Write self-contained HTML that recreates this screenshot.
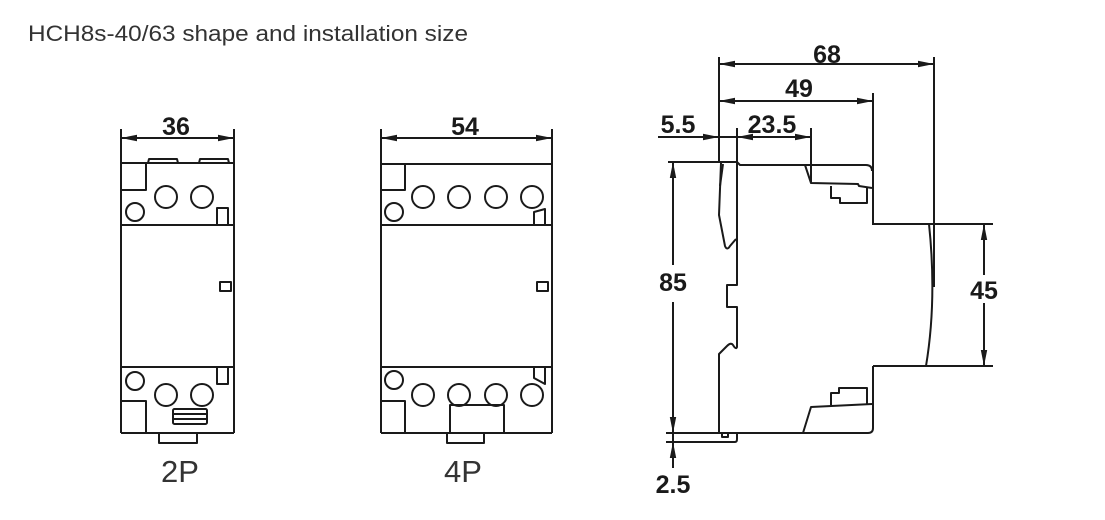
<!DOCTYPE html>
<html><head><meta charset="utf-8"><style>
html,body{margin:0;padding:0;background:#fff;}
svg{display:block;}
</style></head><body>
<svg width="1105" height="520" viewBox="0 0 1105 520" xmlns="http://www.w3.org/2000/svg">
<defs>
<marker id="a" viewBox="0 0 16 8" refX="16" refY="4" markerWidth="16" markerHeight="8" markerUnits="userSpaceOnUse" orient="auto-start-reverse">
<path d="M0,0.8 L16,4 L0,7.2 Z" fill="#1a1a1a"/>
</marker>
</defs>
<rect width="1105" height="520" fill="#fff"/>
<text x="28" y="41" font-family="Liberation Sans, Arial, sans-serif" font-size="22.5" fill="#333" textLength="440" lengthAdjust="spacingAndGlyphs">HCH8s-40/63 shape and installation size</text>

<g fill="none" stroke="#1a1a1a" stroke-width="2" stroke-linejoin="round">
<!-- 2P -->
<line x1="121" y1="129" x2="121" y2="433"/>
<line x1="234" y1="129" x2="234" y2="433"/>
<line x1="121" y1="163" x2="234" y2="163"/>
<path d="M148,163 L149,159 L177,159 L178,163"/>
<path d="M199,163 L200,159 L228,159 L229,163"/>
<path d="M121,190 L146,190 L146,163"/>
<circle cx="166" cy="197" r="11"/>
<circle cx="202" cy="197" r="11"/>
<circle cx="135" cy="212" r="9"/>
<rect x="217" y="208" width="11" height="17"/>
<line x1="121" y1="225" x2="234" y2="225"/>
<rect x="220" y="282" width="11" height="9"/>
<line x1="121" y1="367" x2="234" y2="367"/>
<rect x="217" y="367" width="11" height="17"/>
<circle cx="135" cy="381" r="9"/>
<circle cx="166" cy="395" r="11"/>
<circle cx="202" cy="395" r="11"/>
<path d="M121,401 L146,401 L146,433"/>
<rect x="173" y="409" width="34" height="15" rx="1.5"/>
<line x1="173" y1="414" x2="207" y2="414"/>
<line x1="173" y1="419" x2="207" y2="419"/>
<line x1="121" y1="433" x2="234" y2="433"/>
<path d="M159,433 L159,443 L197,443 L197,433"/>
<line x1="121" y1="138" x2="234" y2="138" marker-start="url(#a)" marker-end="url(#a)"/>

<!-- 4P -->
<line x1="381" y1="129" x2="381" y2="433"/>
<line x1="552" y1="129" x2="552" y2="433"/>
<line x1="381" y1="164" x2="552" y2="164"/>
<path d="M381,190 L405,190 L405,164"/>
<circle cx="423" cy="197" r="11"/>
<circle cx="459" cy="197" r="11"/>
<circle cx="496" cy="197" r="11"/>
<circle cx="532" cy="197" r="11"/>
<circle cx="394" cy="212" r="9"/>
<path d="M534,225 L534,212 L545,209 L545,225"/>
<line x1="381" y1="225" x2="552" y2="225"/>
<rect x="537" y="282" width="11" height="9"/>
<line x1="381" y1="367" x2="552" y2="367"/>
<path d="M534,367 L534,378 L545,384 L545,367"/>
<circle cx="394" cy="380" r="9"/>
<circle cx="423" cy="395" r="11"/>
<circle cx="459" cy="395" r="11"/>
<circle cx="496" cy="395" r="11"/>
<circle cx="532" cy="395" r="11"/>
<path d="M381,401 L405,401 L405,433"/>
<path d="M450,433 L450,405 L504,405 L504,433"/>
<line x1="381" y1="433" x2="552" y2="433"/>
<path d="M447,433 L447,443 L484,443 L484,433"/>
<line x1="381" y1="138" x2="552" y2="138" marker-start="url(#a)" marker-end="url(#a)"/>

<!-- Side view -->
<line x1="719" y1="57" x2="719" y2="162"/>
<line x1="934" y1="57" x2="934" y2="287"/>
<line x1="873" y1="93" x2="873" y2="225"/>
<line x1="811" y1="128" x2="811" y2="183"/>
<line x1="719" y1="64" x2="934" y2="64" marker-start="url(#a)" marker-end="url(#a)"/>
<line x1="719" y1="101" x2="873" y2="101" marker-start="url(#a)" marker-end="url(#a)"/>
<line x1="658" y1="137" x2="719" y2="137" marker-end="url(#a)"/>
<line x1="719" y1="137" x2="737" y2="137"/>
<line x1="737" y1="137" x2="811" y2="137" marker-start="url(#a)" marker-end="url(#a)"/>

<!-- top -->
<path d="M668,162 L737,162 L740,165 L866,165 Q872,165 872,171"/>
<path d="M805,165 L811,183 L858,184 L859,186 L872,188"/>
<path d="M831,186 L831,198 L840,198 L840,203 L867,203 L867,188"/>
<path d="M873,224 L993,224"/>
<path d="M929,224 Q937,300 926,366"/>
<path d="M873,366 L993,366"/>
<path d="M873,366 L873,428 Q873,433 868,433 L666,433"/>
<path d="M803,433 L811,407 L872,404"/>
<path d="M831,405 L831,393 L839,393 L839,388 L867,388 L867,404"/>

<!-- DIN clip -->
<path d="M737,128 L737,285 L727,285 L727,307 L737,307 L737,347 Q736,350 733,345 Q731,342 727,346 L719,354 L719,433"/>
<path d="M721,163 L719,215 L725,246 Q727,251 730,246 L736,239"/>
<path d="M723,164 L720,186"/>
<path d="M666,442 L735,442 Q737,442 737,439 L737,433"/>
<path d="M722,433 L722,437 L728,437 L728,433"/>

<!-- 85 -->
<line x1="673" y1="265" x2="673" y2="162" marker-end="url(#a)"/>
<line x1="673" y1="302" x2="673" y2="433" marker-end="url(#a)"/>
<line x1="673" y1="433" x2="673" y2="442"/>
<line x1="673" y1="468" x2="673" y2="442" marker-end="url(#a)"/>
<!-- 45 -->
<line x1="984" y1="275" x2="984" y2="224" marker-end="url(#a)"/>
<line x1="984" y1="303" x2="984" y2="366" marker-end="url(#a)"/>
</g>

<g font-family="Liberation Sans, Arial, sans-serif" font-weight="bold" font-size="25" fill="#1a1a1a" text-anchor="middle">
<text x="176" y="135">36</text>
<text x="465" y="135">54</text>
<text x="827" y="63">68</text>
<text x="799" y="97">49</text>
<text x="678" y="133">5.5</text>
<text x="772" y="133">23.5</text>
<text x="673" y="291">85</text>
<text x="984" y="299">45</text>
<text x="673" y="493">2.5</text>
</g>
<g font-family="Liberation Sans, Arial, sans-serif" font-size="31" fill="#333" text-anchor="middle">
<text x="180" y="482">2P</text>
<text x="463" y="482">4P</text>
</g>
</svg>
</body></html>
